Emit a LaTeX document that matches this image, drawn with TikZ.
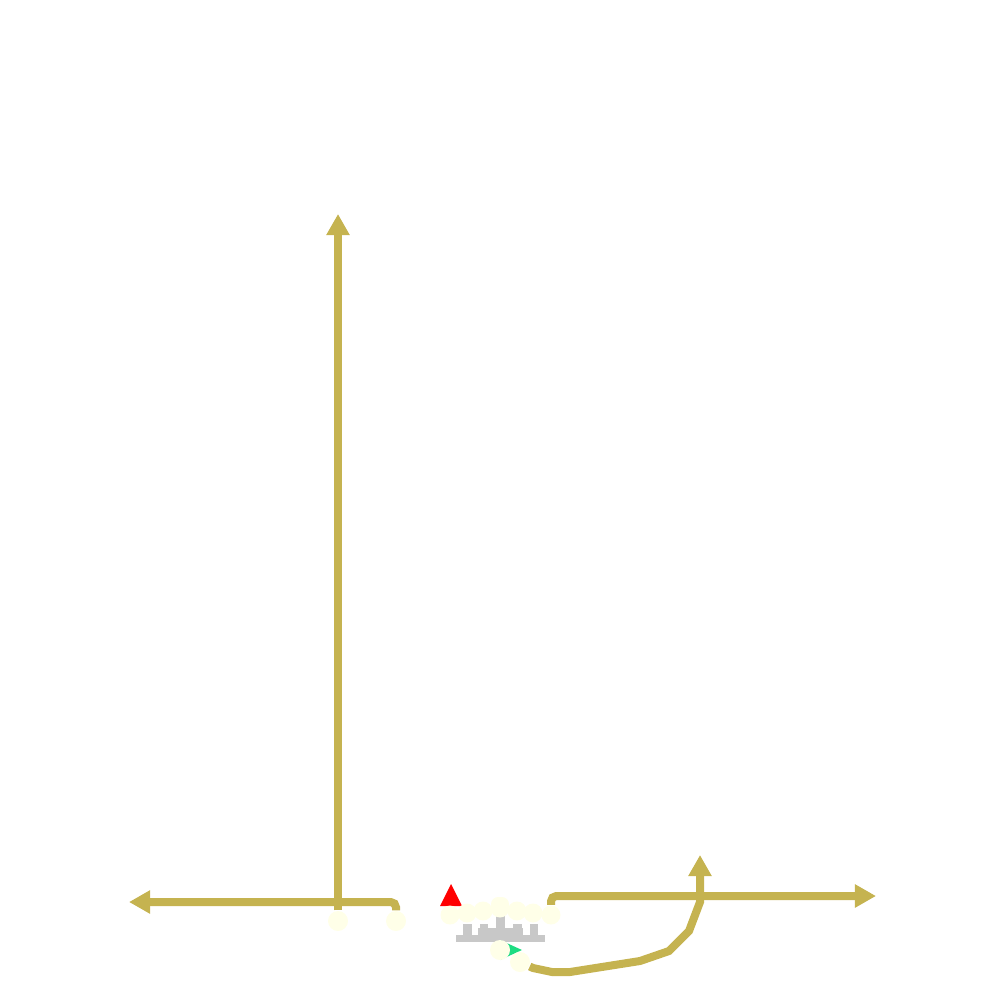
\documentclass[tikz,border=0pt]{standalone}
\usetikzlibrary{arrows.meta}
\definecolor{gold}{RGB}{197,179,80}
\definecolor{pale}{RGB}{255,255,232}
\definecolor{grayshape}{RGB}{200,200,200}
\definecolor{mint}{RGB}{30,220,130}
\tikzset{
  conn/.style={draw=gold, line width=0.08cm, -{Triangle[length=0.21cm,width=0.22cm]}},
  bigdot/.style={circle, fill=pale, draw=none, minimum size=0.2cm, inner sep=0pt},
  smalldot/.style={circle, fill=pale, draw=none, minimum size=0.19cm, inner sep=0pt},
}
\begin{document}
\begin{tikzpicture}[x=0.01cm, y=-0.01cm]
\useasboundingbox (0,0) rectangle (1000,1000);
% gray stepped shape
\fill[grayshape] (456,935) rectangle (545,942);
\fill[grayshape] (478,928) rectangle (523,935);
\fill[grayshape] (463,924) rectangle (472,935);
\fill[grayshape] (480,924) rectangle (488,928);
\fill[grayshape] (496,915) rectangle (505,928);
\fill[grayshape] (513,924) rectangle (522,928);
\fill[grayshape] (530,924) rectangle (538,935);
% red triangle
\fill[red] (440,906) -- (451,884) -- (462,906) -- cycle;
% green arrowhead
\fill[mint] (500,940) -- (522,950) -- (500,960) -- cycle;
% dots
\node[bigdot] (c1) at (338,921) {};
\node[bigdot] (c2) at (396,921) {};
\fill[pale, rounded corners=2] (491,897) rectangle (509,912);
\node[smalldot] (r1) at (450,915) {};
\node[smalldot] (r2) at (467,913) {};
\node[smalldot] (r3) at (483,911) {};
\node[smalldot] (r4) at (500,908) {};
\node[smalldot] (r5) at (517,911) {};
\node[smalldot] (r6) at (533,913) {};
\node[smalldot] (r7) at (551,915) {};
\node[bigdot] (g1) at (500,950) {};
\node[bigdot] (g2) at (520,962) {};
% arrow ends
\coordinate (toptip) at (338,214);
\coordinate (lefttip) at (129,902);
\coordinate (righttip) at (876,896);
\coordinate (uptip) at (700,855);
% connectors
\draw[conn] (c1) -- (toptip);
\draw[conn, rounded corners=1.5] (c2) |- (lefttip);
\draw[conn, rounded corners=1.5] (r7) |- (righttip);
\draw[conn] (g2) -- (533,968) -- (552,972) -- (570,972) -- (640,961) -- (669,951) -- (689,931) -- (700,902) -- (uptip);
\end{tikzpicture}
\end{document}
